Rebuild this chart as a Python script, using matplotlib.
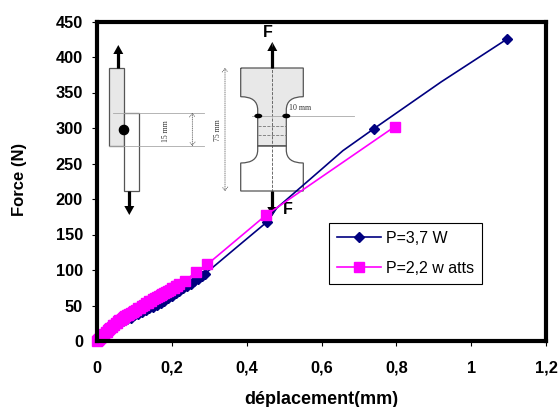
import matplotlib
matplotlib.use("Agg")
import matplotlib.pyplot as plt
from matplotlib.patches import Rectangle, Circle, Ellipse, PathPatch, Polygon
from matplotlib.path import Path

plt.rcParams['font.family'] = ['Liberation Sans', 'DejaVu Sans']

# readings
disp_37 = [0, 0.005, 0.01, 0.02, 0.03, 0.04, 0.05, 0.06, 0.07, 0.08, 0.09, 0.10, 0.11, 0.12, 0.13, 0.14,
           0.15, 0.16, 0.17, 0.18, 0.19, 0.20, 0.21, 0.22, 0.23, 0.24, 0.25, 0.26, 0.27, 0.28, 0.289,
           0.31, 0.38, 0.455, 0.48, 0.596, 0.657, 0.74, 0.92, 1.095]
force_37 = [0, 2, 4, 9, 13, 18, 22, 25, 28, 31, 33, 36, 38, 41, 43, 46,
            48, 51, 54, 57, 60, 63, 67, 70, 74, 77, 80, 84, 88, 92, 95,
            104, 135, 168, 187, 240, 268, 299, 365, 425]
# points that carry a diamond, the others are only line bends
marked_37 = list(range(31)) + [33, 37, 39]

disp_22 = [0, 0.002, 0.004, 0.006, 0.008, 0.01, 0.012, 0.014, 0.016, 0.018, 0.02, 0.023, 0.026, 0.03, 0.033,
           0.036, 0.04, 0.043, 0.046, 0.05, 0.053, 0.056, 0.06, 0.063, 0.066, 0.07, 0.073, 0.076, 0.08, 0.083,
           0.086, 0.09, 0.095, 0.10, 0.105, 0.11, 0.115, 0.12, 0.125, 0.13, 0.135, 0.14, 0.145, 0.15, 0.155,
           0.16, 0.165, 0.17, 0.175, 0.18, 0.185, 0.19, 0.195, 0.20, 0.205, 0.21, 0.215, 0.22, 0.235, 0.265,
           0.295, 0.451, 0.796]
force_22 = [0, 1, 2, 3, 4, 5, 6, 7, 8, 9, 10, 12, 13, 15, 17,
            18, 20, 22, 23, 25, 26, 28, 29, 30, 31, 32, 34, 35, 36, 37,
            38, 39, 41, 42, 44, 46, 47, 49, 51, 53, 54, 56, 57, 59, 60,
            62, 63, 65, 66, 68, 69, 71, 72, 74, 75, 77, 78, 80, 85, 97,
            108, 177, 302]

x_ticks = [0, 0.2, 0.4, 0.6, 0.8, 1.0, 1.2]
x_labels = ['0', '0,2', '0,4', '0,6', '0,8', '1', '1,2']
y_ticks = [0, 50, 100, 150, 200, 250, 300, 350, 400, 450]

BLUE = '#000080'
PINK = '#ff00ff'
GREY = '#a8a8a8'
EDGE = '#555555'


def arrow(a, x, y0, y1, head=5):
    # thick black arrow with a solid head
    d = 1 if y1 > y0 else -1
    a.plot([x, x], [y0, y1 - d * head], color='k', lw=2.3, solid_capstyle='butt')
    a.add_patch(Polygon([[x - head, y1 - d * 9], [x + head, y1 - d * 9], [x, y1]], color='k', lw=0))


def double_arrow(a, x, y0, y1):
    a.annotate('', xy=(x, y0), xytext=(x, y1),
               arrowprops=dict(arrowstyle='<->,head_length=0.25,head_width=0.2', color='#444444', lw=0.5,
                               linestyle=':', shrinkA=0, shrinkB=0))


def draw_diagram(a):
    # left specimen (lap joint), pixel coordinates
    a.add_patch(Rectangle((109, 68), 15.3, 78, fc='#e8e8e8', ec=EDGE, lw=0.9))
    a.add_patch(Rectangle((124.3, 113), 14.4, 78, fc='white', ec=EDGE, lw=0.9))
    arrow(a, 118.3, 68, 45)
    arrow(a, 129.3, 191, 215)
    a.add_patch(Circle((124, 130), 4.6, color='k', zorder=3))
    a.plot([113, 204], [113, 113], color=GREY, lw=0.6)
    a.plot([109, 204], [146, 146], color=GREY, lw=0.6)
    double_arrow(a, 192.3, 113, 146)
    a.text(166, 131.5, '15 mm', rotation=90, ha='center', va='center', fontsize=5.5,
           family='Liberation Serif', color='#333333')

    # right specimen (dog bone)
    L, R, l, r = 240.7, 303.3, 257.7, 286.3
    top = [(L, 68), (R, 68), (R, 96.7), (r, 96.7), (r, 110), (r, 146), (l, 146), (l, 110), (l, 96.7), (L, 96.7), (L, 68)]
    codes = [Path.MOVETO, Path.LINETO, Path.LINETO, Path.CURVE3, Path.CURVE3, Path.LINETO, Path.LINETO,
             Path.LINETO, Path.CURVE3, Path.CURVE3, Path.LINETO]
    a.add_patch(PathPatch(Path(top, codes), fc='#e8e8e8', ec=EDGE, lw=0.9))
    bot = [(l, 146), (l, 150), (l, 163), (L, 163), (L, 191), (R, 191), (R, 163), (r, 163), (r, 150), (r, 146)]
    bot_codes = [Path.MOVETO, Path.LINETO, Path.CURVE3, Path.CURVE3, Path.LINETO, Path.LINETO, Path.LINETO,
                 Path.CURVE3, Path.CURVE3, Path.LINETO]
    a.add_patch(PathPatch(Path(bot, bot_codes), fc='white', ec=EDGE, lw=0.9))
    a.plot([l, r], [146, 146], color='#555555', lw=1.1)
    a.plot([l, r], [125.7, 125.7], color='#777777', lw=0.6, ls='--')
    a.plot([l, r], [134.7, 134.7], color='#777777', lw=0.6, ls='--')
    a.plot([272.3, 272.3], [43, 205], color='#555555', lw=0.6, ls='--')
    a.plot([252, 354], [116, 116], color=GREY, lw=0.6)
    a.add_patch(Ellipse((258.3, 116), 6.5, 3.2, color='k', zorder=3))
    a.add_patch(Ellipse((286.3, 116), 6.5, 3.2, color='k', zorder=3))
    arrow(a, 272.3, 68, 42)
    arrow(a, 272.3, 191, 216)
    double_arrow(a, 225, 68, 191)
    a.text(217.7, 130.5, '75 mm', rotation=90, ha='center', va='center', fontsize=5.5,
           family='Liberation Serif', color='#333333')
    a.text(289, 108, '10 mm', ha='left', va='center', fontsize=5.8, family='Liberation Serif', color='#333333')
    a.text(268, 32.5, 'F', ha='center', va='center', fontsize=11.5, fontweight='bold')
    a.text(287.7, 209, 'F', ha='center', va='center', fontsize=11.5, fontweight='bold')


fig = plt.figure(figsize=(5.6, 4.07), dpi=100)

# diagram sits under the chart, in pixel coordinates
bg = fig.add_axes([0, 0, 1, 1], zorder=0)
bg.set_xlim(0, 560)
bg.set_ylim(407, 0)
bg.axis('off')
draw_diagram(bg)

ax = fig.add_axes([97 / 560, (407 - 341) / 407, 449 / 560, 319.5 / 407], zorder=1)
ax.patch.set_alpha(0)

line_37, = ax.plot(disp_37, force_37, color=BLUE, lw=1.2, marker='D', ms=5.5, markevery=marked_37,
                   label='P=3,7 W', clip_on=False)
line_22, = ax.plot(disp_22, force_22, color=PINK, lw=1.2, marker='s', ms=7.8, label='P=2,2 w atts', clip_on=False)

ax.set_xlim(0, 1.2)
ax.set_ylim(0, 450)
ax.set_xticks(x_ticks)
ax.set_xticklabels(x_labels)
ax.set_yticks(y_ticks)
for s in ax.spines.values():
    s.set_linewidth(3)
ax.tick_params(axis='both', length=3.6, width=0.8, direction='out', labelsize=11.8)
ax.tick_params(axis='x', pad=10.5)
ax.tick_params(axis='y', pad=6.5)
for t in ax.get_xticklabels() + ax.get_yticklabels():
    t.set_fontweight('bold')

fig.text(20 / 560, 1 - 179 / 407, 'Force (N)', rotation=90, ha='center', va='center', fontsize=12, fontweight='bold')
fig.text(321 / 560, 1 - 399 / 407, 'déplacement(mm)', ha='center', va='center', fontsize=13, fontweight='bold')

leg = ax.legend(handles=[line_37, line_22], loc='lower left', fontsize=11.5, fancybox=False, framealpha=1,
                edgecolor='k', bbox_to_anchor=((329 - 97) / 449, (341 - 284) / 319.5, 153 / 449, 61 / 319.5),
                mode='expand', borderaxespad=0, handlelength=2.75, labelspacing=0.95, borderpad=0.5,
                handletextpad=0.3)
leg.get_frame().set_linewidth(0.8)

fig.savefig('out.png', dpi=100)
